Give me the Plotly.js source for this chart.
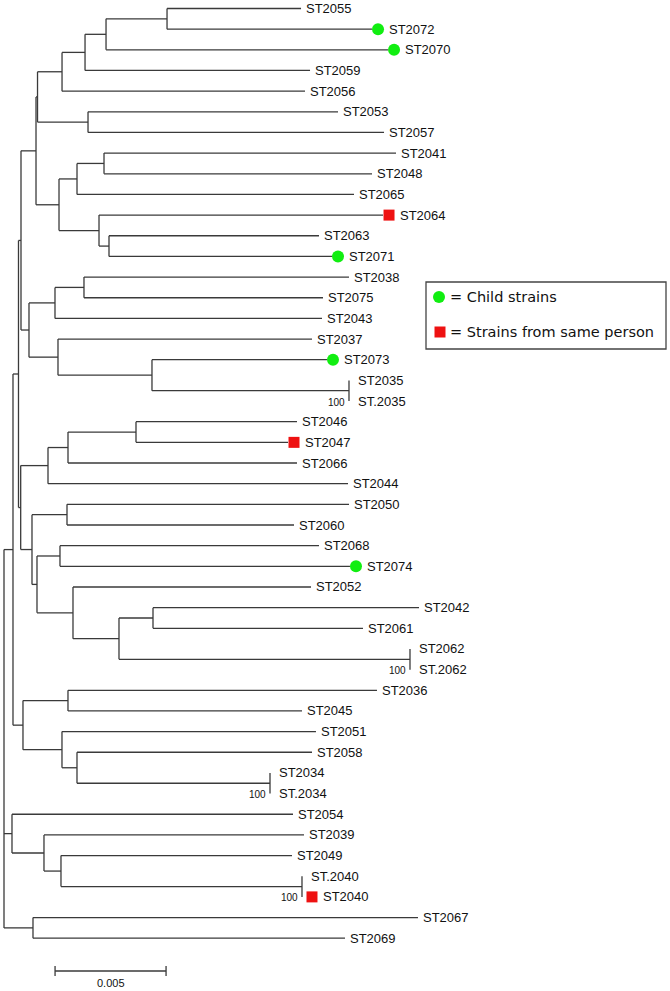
<!DOCTYPE html>
<html><head><meta charset="utf-8">
<script src="https://cdn.plot.ly/plotly-3.0.1.min.js"></script>
<style>html,body{margin:0;padding:0;background:#fff}#chart{width:670px;height:991px}</style>
</head><body><div id="chart"></div>
<script>
// Tree edges in drawing order: parent, child, branch length (substitutions per site)
const edgeParent = ['root','root','root','Q','Q','P','P','M','M','G','G','F','F','D','D','C','C','B','B','A','A','E','E',
  'H','H','J','J','I','I','L','L','K','K','N','N','X','X','Y','Y','Z','Z','Z2','Z2','P35','P35',
  'S','S','T','T','V','V','W','W','U','U','U1','U1','U2','U2','U3','U3','U4','U4','U5','U5','U6','U6','P62','P62',
  'O','O','O1','O1','O2','O2','O3','O3','P34','P34','R1','R1','R2','R2','R3','R3','P40','P40','R4','R4'];
const edgeChild = ['Q','R1','R4','P','O','M','S','G','N','F','H','D','E','C','ST2056','B','ST2059','A','ST2070','ST2055','ST2072','ST2053','ST2057',
  'J','L','I','ST2065','ST2041','ST2048','ST2064','K','ST2063','ST2071','X','Z','Y','ST2043','ST2038','ST2075','ST2037','Z2','ST2073','P35','ST2035','ST.2035',
  'T','U','V','ST2044','W','ST2066','ST2046','ST2047','U1','U2','ST2050','ST2060','U3','U4','ST2068','ST2074','ST2052','U5','U6','P62','ST2042','ST2061','ST2062','ST.2062',
  'O1','O2','ST2036','ST2045','ST2051','O3','ST2058','P34','ST2034','ST.2034','ST2054','R2','ST2039','R3','ST2049','P40','ST.2040','ST2040','ST2067','ST2069'];
const edgeLength = [0.000405,0.00036,0.001306,0.000248,0.00045,0.000113,0.000099,0.000676,0.00036,0.000068,0.001036,0.001104,0.002275,0.001036,0.010946,0.000946,0.010135,0.002748,0.012703,0.006036,0.009234,0.011261,0.013333,
  0.000811,0.001802,0.001216,0.012477,0.013153,0.012072,0.012793,0.00045,0.009459,0.010045,0.001171,0.001306,0.001306,0.012027,0.011937,0.010766,0.011441,0.004234,0.007883,0.008874,0,0,
  0.00123,0.000509,0.000901,0.013514,0.003063,0.010315,0.007252,0.006847,0.001577,0.000225,0.012703,0.010225,0.001036,0.001622,0.011667,0.013063,0.010721,0.002072,0.001532,0.013108,0.011982,0.009459,0,0,
  0.002027,0.001757,0.013919,0.010541,0.011441,0.000676,0.010586,0.008694,0,0,0.012658,0.001441,0.011712,0.000766,0.010405,0.010856,0,0,0.017342,0.014054];
const childStrains = ['ST2072','ST2070','ST2071','ST2073','ST2074'];
const samePersonStrains = ['ST2064','ST2047','ST2040'];
const bootstrapNodes = ['P35','P62','P34','P40'];
const bootstrapValues = [100,100,100,100];
const scaleBarLength = 0.005;
const legendLabels = ['= Child strains','= Strains from same person'];

const W = 670, H = 991;
const xRange = [-0.00018, 0.03];
const yRange = [47.555, -0.411];
const pxPerX = W / (xRange[1]-xRange[0]);
const px2paperX = p => p / W;
const px2paperY = p => 1 - p / H;

const children = {}, blen = {};
edgeParent.forEach((p,i) => { (children[p] = children[p] || []).push(edgeChild[i]); blen[edgeChild[i]] = edgeLength[i]; });
const NX = {}, NY = {}, leaves = [];
function walk(n, d){
  NX[n] = d;
  const ch = children[n];
  if(!ch){ NY[n] = leaves.length; leaves.push(n); return; }
  ch.forEach(c => walk(c, d + blen[c]));
  NY[n] = (NY[ch[0]] + NY[ch[ch.length-1]]) / 2;
}
walk('root', 0);

const lx = [], ly = [];
Object.keys(children).forEach(n => {
  const ch = children[n];
  lx.push(NX[n], NX[n], null); ly.push(NY[ch[0]], NY[ch[ch.length-1]], null);
  ch.forEach(c => { if (NX[c] > NX[n]) { lx.push(NX[n], NX[c], null); ly.push(NY[c], NY[c], null); } });
});

const gapPx = leaf => blen[leaf] === 0 ? 4 : 0;
const markerX = leaf => NX[leaf] + (gapPx(leaf) + 6) / pxPerX;

const traces = [
  {type:'scatter', mode:'lines', x:lx, y:ly, connectgaps:false, hoverinfo:'skip',
   line:{color:'#3a3a3a', width:1.3}, showlegend:false},
  {type:'scatter', mode:'markers', x:childStrains.map(markerX), y:childStrains.map(l=>NY[l]),
   marker:{symbol:'circle', size:12, color:'#11ee11', line:{width:0}}, showlegend:false, hoverinfo:'skip'},
  {type:'scatter', mode:'markers', x:samePersonStrains.map(markerX), y:samePersonStrains.map(l=>NY[l]),
   marker:{symbol:'square', size:11, color:'#ee1111', line:{width:0}}, showlegend:false, hoverinfo:'skip'}
];

const labelFont = {family:'Liberation Sans, Arial, sans-serif', size:13, color:'#111'};
const annotations = leaves.map(l => {
  const hasMarker = childStrains.includes(l) || samePersonStrains.includes(l);
  return {x:NX[l], y:NY[l], xref:'x', yref:'y', text:l, showarrow:false, xanchor:'left', yanchor:'middle',
          xshift: gapPx(l) + (hasMarker ? 17 : 5), borderpad:0, borderwidth:0, font:labelFont};
});
bootstrapNodes.forEach((n,i) => {
  const ch = children[n];
  annotations.push({x:NX[n], y:NY[ch[ch.length-1]], xref:'x', yref:'y', text:String(bootstrapValues[i]), showarrow:false,
    xanchor:'right', yanchor:'middle', xshift:-4, yshift:-1, borderpad:0, borderwidth:0,
    font:{family:'Liberation Sans, Arial, sans-serif', size:10, color:'#111'}});
});
const legendFont = {family:'DejaVu Sans, Verdana, sans-serif', size:14.5, color:'#111'};
legendLabels.forEach((t,i) => {
  annotations.push({x:px2paperX(450), y:px2paperY([297,332][i]), xref:'paper', yref:'paper', text:t, showarrow:false,
    xanchor:'left', yanchor:'middle', borderpad:0, borderwidth:0, font:legendFont});
});
const sbX0 = 0.0023;
annotations.push({x:sbX0 + scaleBarLength/2, y:px2paperY(983), xref:'x', yref:'paper', text:String(scaleBarLength),
  showarrow:false, xanchor:'center', yanchor:'middle', borderpad:0, borderwidth:0,
  font:{family:'Liberation Sans, Arial, sans-serif', size:11, color:'#111'}});

const shapes = [
  {type:'rect', xref:'paper', yref:'paper', x0:px2paperX(426), x1:px2paperX(666), y0:px2paperY(349), y1:px2paperY(282),
   line:{color:'#444', width:1.3}, fillcolor:'rgba(0,0,0,0)'},
  {type:'circle', xref:'paper', yref:'paper', x0:px2paperX(433), x1:px2paperX(445), y0:px2paperY(303), y1:px2paperY(291),
   line:{width:0}, fillcolor:'#11ee11'},
  {type:'rect', xref:'paper', yref:'paper', x0:px2paperX(434.5), x1:px2paperX(445.5), y0:px2paperY(337.5), y1:px2paperY(326.5),
   line:{width:0}, fillcolor:'#ee1111'},
  {type:'line', xref:'x', yref:'paper', x0:sbX0, x1:sbX0+scaleBarLength, y0:px2paperY(971), y1:px2paperY(971), line:{color:'#3a3a3a', width:1.3}},
  {type:'line', xref:'x', yref:'paper', x0:sbX0, x1:sbX0, y0:px2paperY(966), y1:px2paperY(976), line:{color:'#3a3a3a', width:1.3}},
  {type:'line', xref:'x', yref:'paper', x0:sbX0+scaleBarLength, x1:sbX0+scaleBarLength, y0:px2paperY(966), y1:px2paperY(976), line:{color:'#3a3a3a', width:1.3}}
];

const layout = {
  width:W, height:H, margin:{l:0,r:0,t:0,b:0,pad:0},
  paper_bgcolor:'#fff', plot_bgcolor:'#fff', showlegend:false,
  xaxis:{range:xRange, visible:false, showgrid:false, zeroline:false, fixedrange:true},
  yaxis:{range:yRange, visible:false, showgrid:false, zeroline:false, fixedrange:true},
  annotations, shapes
};
Plotly.newPlot('chart', traces, layout, {staticPlot:true, displayModeBar:false});
</script></body></html>
